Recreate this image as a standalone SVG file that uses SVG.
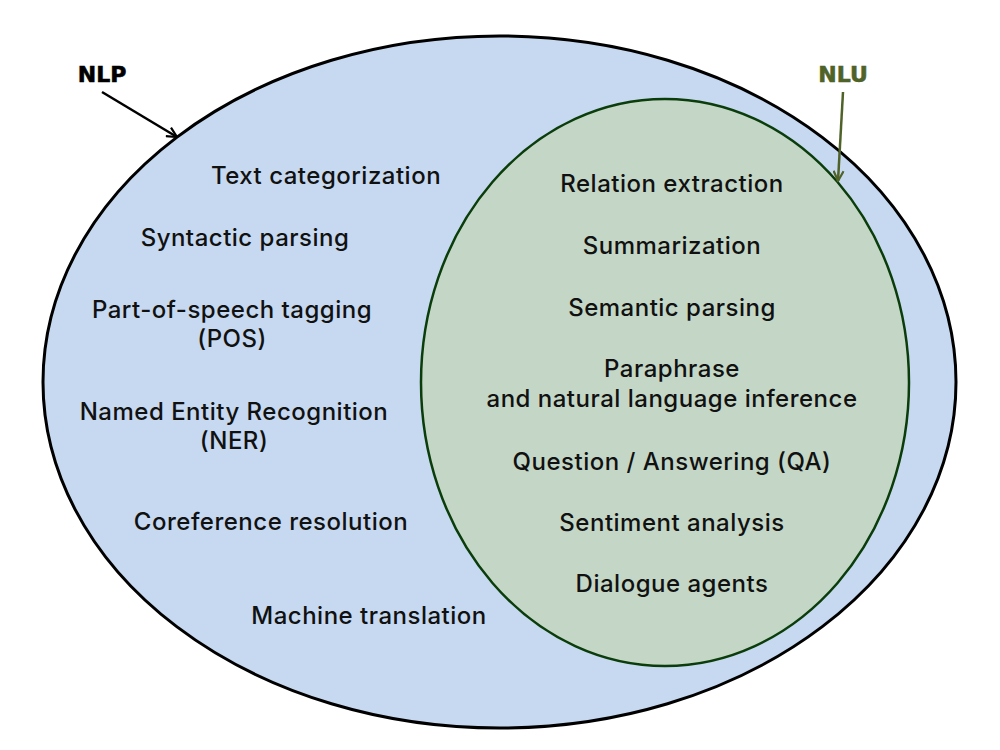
<svg xmlns="http://www.w3.org/2000/svg" width="1000" height="750" viewBox="0 0 1000 750">
<style>
.t{font-family:Inter,"Open Sans","Liberation Sans",sans-serif;font-size:24px;font-weight:500;letter-spacing:0.5px;fill:#111;text-anchor:middle}
.lbl{font-family:"DejaVu Sans","Liberation Sans",sans-serif;font-size:22px;font-weight:bold}
</style>
<defs>
<marker id="ab" viewBox="0 0 12 12" refX="11" refY="6" markerWidth="12" markerHeight="12" markerUnits="userSpaceOnUse" orient="auto"><path d="M1,1 L11,6 L1,11" fill="none" stroke="#000" stroke-width="2.2"/></marker>
<marker id="ag" viewBox="0 0 12 12" refX="11" refY="6" markerWidth="12" markerHeight="12" markerUnits="userSpaceOnUse" orient="auto"><path d="M1,1 L11,6 L1,11" fill="none" stroke="#4f6228" stroke-width="2.2"/></marker>
</defs>
<rect width="1000" height="750" fill="#fff"/>
<g id="nlp">
<ellipse cx="499.5" cy="382" rx="456.5" ry="346" fill="#c6d9f0" stroke="#000" stroke-width="3"/>
<text class="lbl" x="102" y="82" text-anchor="middle" fill="#000" stroke="#000" stroke-width="0.6">NLP</text>
<text class="t" x="326" y="184">Text categorization</text>
<text class="t" x="245" y="246">Syntactic parsing</text>
<text class="t" x="232" y="318">Part-of-speech tagging</text>
<text class="t" x="232" y="347">(POS)</text>
<text class="t" x="234" y="420">Named Entity Recognition</text>
<text class="t" x="234" y="449">(NER)</text>
<text class="t" x="271" y="530">Coreference resolution</text>
<text class="t" x="369" y="624">Machine translation</text>
</g>
<g id="nlu">
<ellipse cx="665" cy="382.5" rx="244" ry="283.5" fill="#c4d7c6" stroke="#0b3d0b" stroke-width="2.5"/>
<text class="lbl" x="843" y="82" text-anchor="middle" fill="#4f6228" stroke="#4f6228" stroke-width="0.6">NLU</text>
<text class="t" x="672" y="192">Relation extraction</text>
<text class="t" x="672" y="254">Summarization</text>
<text class="t" x="672" y="316">Semantic parsing</text>
<text class="t" x="672" y="377">Paraphrase</text>
<text class="t" x="672" y="407">and natural language inference</text>
<text class="t" x="672" y="470">Question / Answering (QA)</text>
<text class="t" x="672" y="531">Sentiment analysis</text>
<text class="t" x="672" y="592">Dialogue agents</text>
</g>
<g id="connectors">
<line x1="102" y1="92" x2="177" y2="137" stroke="#000" stroke-width="2.5" marker-end="url(#ab)"/>
<line x1="843" y1="92" x2="838" y2="181" stroke="#4f6228" stroke-width="2.5" marker-end="url(#ag)"/>
</g>
</svg>
